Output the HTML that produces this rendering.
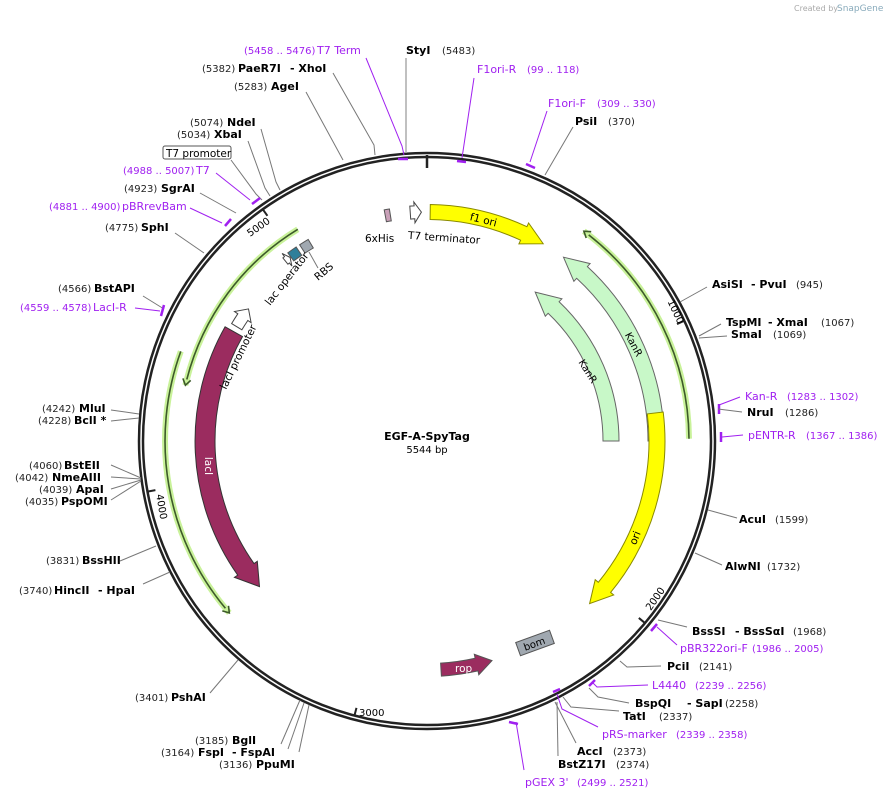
<!DOCTYPE html>
<html><head><meta charset="utf-8"><style>
html,body{margin:0;padding:0;background:#fff;width:892px;height:798px;overflow:hidden}
svg{display:block;font-family:"DejaVu Sans","Liberation Sans",sans-serif}
.b{font-weight:bold;font-size:11px;fill:#000}
.n{font-size:10px;fill:#222}
.p{font-size:11px;fill:#a020f0}
.pn{font-size:10px;fill:#a020f0}
.l{stroke:#777;stroke-width:1;fill:none}
.lp{stroke:#a020f0;stroke-width:1;fill:none}
.m{stroke:#a020f0;stroke-width:2.5;fill:none}
</style></head><body>
<svg id="s" width="892" height="798" viewBox="0 0 892 798" xmlns="http://www.w3.org/2000/svg">
<text x="794" y="11" font-size="8" fill="#aaa">Created by</text><text x="837" y="11" font-size="9" fill="#8ab">SnapGene</text>
<g id="feat"></g>
<circle cx="427" cy="441" r="288" fill="none" stroke="#222" stroke-width="2.5"/>
<circle cx="427" cy="441" r="284" fill="none" stroke="#222" stroke-width="2.5"/>
<line x1="427" y1="155" x2="427" y2="168" stroke="#222" stroke-width="2.5"/>
<g id="ticks"></g>
<text x="647" y="610" font-size="10" transform="rotate(-55 650 607)">2000</text>
<text x="359" y="716" font-size="10">3000</text>
<text x="150" y="498" font-size="10" transform="rotate(80 155 500)">4000</text>
<text x="244" y="232" font-size="10" transform="rotate(-35 255 225)">5000</text>
<text x="660" y="307" font-size="10" transform="rotate(65 668 310)">1000</text>
<text x="427" y="440" text-anchor="middle" font-size="11" font-weight="bold">EGF-A-SpyTag</text>
<text x="427" y="453" text-anchor="middle" font-size="10">5544 bp</text>
<path class="lp" d="M366 58 L402 146 L404 155"/><path class="m" d="M398 159 L408 159"/>
<path class="l" style="stroke:#aaa;stroke-width:1.5" d="M406 58 L406 153"/>
<path class="l" d="M333 73 L374 145 L375 155"/>
<path class="l" d="M306 92 L343 160"/>
<path class="l" d="M261 129 L276 182 L280 190"/>
<path class="l" d="M248 141 L265 188 L270 196"/>
<path class="l" d="M231 160 L256 194 L262 200"/>
<path class="lp" d="M216 173 L250 200"/><path class="m" d="M252 204 L260 198"/>
<path class="l" d="M200 193 L236 213"/>
<path class="lp" d="M190 208 L222 223"/><path class="m" d="M225 226 L231 219"/>
<path class="l" d="M175 233 L204 253"/>
<path class="l" d="M143 296 L164 309"/>
<path class="lp" d="M135 308 L160 311"/><path class="m" d="M161 316 L164 305"/>
<path class="l" d="M111 410 L139 414"/>
<path class="l" d="M111 421 L139 418"/>
<path class="l" d="M111 465 L141 478"/><path class="l" d="M111 477 L141 479"/><path class="l" d="M111 489 L141 480"/><path class="l" d="M111 500 L141 481"/>
<path class="l" d="M120 561 L156 546"/>
<path class="l" d="M143 584 L170 572"/>
<path class="l" d="M210 693 L238 660"/>
<path class="l" d="M281 744 L300 700"/>
<path class="l" d="M288 749 L304 703"/>
<path class="l" d="M299 752 L309 705"/>
<path class="lp" d="M474 78 L462 158"/><path class="m" d="M457 161 L466 162"/>
<path class="lp" d="M547 111 L530 162"/><path class="m" d="M526 164 L535 168"/>
<path class="l" d="M573 127 L545 175"/>
<path class="l" d="M707 287 L680 302"/>
<path class="l" d="M721 324 L699 336"/>
<path class="l" d="M727 336 L699 338"/>
<path class="lp" d="M740 397 L719 405"/><path class="m" d="M719 404 L719 414"/>
<path class="l" d="M742 412 L718 409"/>
<path class="lp" d="M743 435 L722 437"/><path class="m" d="M721 432 L721 442"/>
<path class="l" d="M737 518 L708 510"/>
<path class="l" d="M722 565 L695 553"/>
<path class="l" d="M687 627 L658 620"/>
<path class="lp" d="M677 645 L657 627"/><path class="m" d="M651 631 L657 624"/>
<path class="l" d="M661 666 L627 667 L620 661"/>
<path class="lp" d="M648 685 L597 687 L592 682"/><path class="m" d="M589 686 L595 680"/>
<path class="l" d="M629 703 L598 697 L589 688"/>
<path class="l" d="M619 711 L571 707 L563 697"/>
<path class="lp" d="M598 727 L562 709 L557 694"/><path class="m" d="M553 692 L560 689"/>
<path class="l" d="M576 743 L555 702"/>
<path class="l" d="M558 756 L557 702"/>
<path class="lp" d="M524 770 L516 722"/><path class="m" d="M509 722 L518 724"/>
<text x="244" y="54" class="pn">(5458 .. 5476)</text><text x="317" y="54" class="p">T7 Term</text>
<text x="406" y="54" class="b">StyI</text><text x="442" y="54" class="n">(5483)</text>
<text x="202" y="72" class="n">(5382)</text><text x="238" y="72" class="b">PaeR7I</text><text x="290" y="72" class="b">- XhoI</text>
<text x="234" y="90" class="n">(5283)</text><text x="271" y="90" class="b">AgeI</text>
<text x="190" y="126" class="n">(5074)</text><text x="227" y="126" class="b">NdeI</text>
<text x="177" y="138" class="n">(5034)</text><text x="214" y="138" class="b">XbaI</text>
<rect x="163" y="146" width="68" height="13" rx="2" fill="#fff" stroke="#555"/><text x="166" y="157" font-size="10.5">T7 promoter</text>
<text x="123" y="174" class="pn">(4988 .. 5007)</text><text x="196" y="174" class="p">T7</text>
<text x="124" y="192" class="n">(4923)</text><text x="161" y="192" class="b">SgrAI</text>
<text x="49" y="210" class="pn">(4881 .. 4900)</text><text x="122" y="210" class="p">pBRrevBam</text>
<text x="105" y="231" class="n">(4775)</text><text x="141" y="231" class="b">SphI</text>
<text x="58" y="292" class="n">(4566)</text><text x="94" y="292" class="b">BstAPI</text>
<text x="20" y="311" class="pn">(4559 .. 4578)</text><text x="93" y="311" class="p">LacI-R</text>
<text x="42" y="412" class="n">(4242)</text><text x="79" y="412" class="b">MluI</text>
<text x="38" y="424" class="n">(4228)</text><text x="74" y="424" class="b">BclI *</text>
<text x="29" y="469" class="n">(4060)</text><text x="64" y="469" class="b">BstEII</text>
<text x="15" y="481" class="n">(4042)</text><text x="52" y="481" class="b">NmeAIII</text>
<text x="39" y="493" class="n">(4039)</text><text x="76" y="493" class="b">ApaI</text>
<text x="25" y="505" class="n">(4035)</text><text x="61" y="505" class="b">PspOMI</text>
<text x="46" y="564" class="n">(3831)</text><text x="82" y="564" class="b">BssHII</text>
<text x="19" y="594" class="n">(3740)</text><text x="54" y="594" class="b">HincII</text><text x="98" y="594" class="b">- HpaI</text>
<text x="135" y="701" class="n">(3401)</text><text x="171" y="701" class="b">PshAI</text>
<text x="195" y="744" class="n">(3185)</text><text x="232" y="744" class="b">BglI</text>
<text x="161" y="756" class="n">(3164)</text><text x="198" y="756" class="b">FspI</text><text x="232" y="756" class="b">- FspAI</text>
<text x="219" y="768" class="n">(3136)</text><text x="256" y="768" class="b">PpuMI</text>
<text x="477" y="73" class="p">F1ori-R</text><text x="527" y="73" class="pn">(99 .. 118)</text>
<text x="548" y="107" class="p">F1ori-F</text><text x="597" y="107" class="pn">(309 .. 330)</text>
<text x="575" y="125" class="b">PsiI</text><text x="608" y="125" class="n">(370)</text>
<text x="712" y="288" class="b">AsiSI</text><text x="751" y="288" class="b">- PvuI</text><text x="796" y="288" class="n">(945)</text>
<text x="726" y="326" class="b">TspMI</text><text x="768" y="326" class="b">- XmaI</text><text x="821" y="326" class="n">(1067)</text>
<text x="731" y="338" class="b">SmaI</text><text x="773" y="338" class="n">(1069)</text>
<text x="745" y="400" class="p">Kan-R</text><text x="787" y="400" class="pn">(1283 .. 1302)</text>
<text x="747" y="416" class="b">NruI</text><text x="785" y="416" class="n">(1286)</text>
<text x="748" y="439" class="p">pENTR-R</text><text x="806" y="439" class="pn">(1367 .. 1386)</text>
<text x="739" y="523" class="b">AcuI</text><text x="775" y="523" class="n">(1599)</text>
<text x="725" y="570" class="b">AlwNI</text><text x="767" y="570" class="n">(1732)</text>
<text x="692" y="635" class="b">BssSI</text><text x="735" y="635" class="b">- BssSαI</text><text x="793" y="635" class="n">(1968)</text>
<text x="680" y="652" class="p">pBR322ori-F</text><text x="752" y="652" class="pn">(1986 .. 2005)</text>
<text x="667" y="670" class="b">PciI</text><text x="699" y="670" class="n">(2141)</text>
<text x="652" y="689" class="p">L4440</text><text x="695" y="689" class="pn">(2239 .. 2256)</text>
<text x="635" y="707" class="b">BspQI</text><text x="687" y="707" class="b">- SapI</text><text x="725" y="707" class="n">(2258)</text>
<text x="623" y="720" class="b">TatI</text><text x="659" y="720" class="n">(2337)</text>
<text x="602" y="738" class="p">pRS-marker</text><text x="676" y="738" class="pn">(2339 .. 2358)</text>
<text x="577" y="755" class="b">AccI</text><text x="613" y="755" class="n">(2373)</text>
<text x="558" y="768" class="b">BstZ17I</text><text x="616" y="768" class="n">(2374)</text>
<text x="525" y="786" class="p">pGEX 3'</text><text x="577" y="786" class="pn">(2499 .. 2521)</text>
<text x="470" y="222" font-size="10.5" transform="rotate(14 478 218)">f1 ori</text>
<text x="628" y="540" font-size="10.5" transform="rotate(-68 636 537)">ori</text>
<text x="622" y="345" font-size="10" transform="rotate(62 632 342)">KanR</text>
<text x="576" y="372" font-size="10" transform="rotate(58 586 369)">KanR</text>
<text x="205" y="466" text-anchor="middle" font-size="10.5" fill="#fff" transform="rotate(90 205 466)">lacI</text>
<text x="455" y="672" font-size="10.5" fill="#fff">rop</text>
<text x="365" y="242" font-size="10.5">6xHis</text>
<text x="408" y="241" font-size="10.5" transform="rotate(4 440 237)">T7 terminator</text>
<text x="226" y="390" font-size="10.5" transform="rotate(-64 226 390)">lacI promoter</text>
<text x="270" y="306" font-size="10.5" transform="rotate(-52 270 306)">lac operator</text>
<text x="318" y="281" font-size="10.5" transform="rotate(-40 318 281)">RBS</text>
<line x1="309" y1="252" x2="318" y2="268" stroke="#777"/>
</svg>
<script>
(function(){
var cx=427,cy=441,NS="http://www.w3.org/2000/svg";
function P(r,a){a=a*Math.PI/180;return [cx+r*Math.sin(a),cy-r*Math.cos(a)];}
function f(p){return p[0].toFixed(1)+" "+p[1].toFixed(1);}
var g=document.getElementById("feat");
function add(tag,at){var e=document.createElementNS(NS,tag);for(var k in at)e.setAttribute(k,at[k]);g.appendChild(e);return e;}
function arcPath(r,a1,a2){var sw=a2>a1?1:0,la=Math.abs(a2-a1)>180?1:0;return "M"+f(P(r,a1))+" A"+r+" "+r+" 0 "+la+" "+sw+" "+f(P(r,a2));}
function arrow(r,w,s,t,fill,stroke,head){
 head=head||20;var d=t>s?1:-1;var hd=head/r*180/Math.PI;var h=t-d*hd;
 var ro=r+w/2,ri=r-w/2,sw=d>0?1:0,sw2=d>0?0:1,la=Math.abs(h-s)>180?1:0;
 var p="M"+f(P(ro,s))+" A"+ro+" "+ro+" 0 "+la+" "+sw+" "+f(P(ro,h))+" L"+f(P(ro+4,h))+" L"+f(P(r,t))+" L"+f(P(ri-4,h))+" L"+f(P(ri,h))+" A"+ri+" "+ri+" 0 "+la+" "+sw2+" "+f(P(ri,s))+" Z";
 add("path",{d:p,fill:fill,stroke:stroke,"stroke-width":1});
}
function box(r,w,s,e,fill){
 var ro=r+w/2,ri=r-w/2;
 add("path",{d:"M"+f(P(ro,s))+" A"+ro+" "+ro+" 0 0 1 "+f(P(ro,e))+" L"+f(P(ri,e))+" A"+ri+" "+ri+" 0 0 0 "+f(P(ri,s))+" Z",fill:fill,stroke:"#555","stroke-width":1});
}
function green(r,s,t){
 add("path",{d:arcPath(r,s,t),stroke:"#c9f29a","stroke-width":6,fill:"none"});
 var d=t>s?1:-1;var h=t-d*(6/r*180/Math.PI);
 add("path",{d:arcPath(r,s,h),stroke:"#3d5a2a","stroke-width":1.6,fill:"none"});
 add("path",{d:"M"+f(P(r+4,h))+" L"+f(P(r,t))+" L"+f(P(r-4,h)),stroke:"#3d5a2a","stroke-width":1.6,fill:"none"});
}
var tg=document.getElementById("ticks");
[1000,2000,3000,4000,5000].forEach(function(b){var a=b/5544*360;var e=document.createElementNS(NS,"line");var p1=P(284,a),p2=P(276,a);e.setAttribute("x1",p1[0]);e.setAttribute("y1",p1[1]);e.setAttribute("x2",p2[0]);e.setAttribute("y2",p2[1]);e.setAttribute("stroke","#222");e.setAttribute("stroke-width","2");tg.appendChild(e);});
arrow(229,15,0.8,30.5,"#ffff00","#8a8a00",22);
green(262,89.5,36.8);
arrow(229,16,90,36.6,"#c8f8c8","#666",24);
arrow(184,16,90,36,"#c8f8c8","#666",24);
arrow(230,16,83,135,"#ffff00","#8a8a00",22);
arrow(229,13,176.5,163.5,"#9b2c5f","#555",16);
arrow(222,20,299.5,229,"#9b2c5f","#333",22);
green(248,328.6,283);
green(262,290,229);
arrow(222,12,301,306.5,"#fff","#444",10);
box(229,10,323.5,326,"#2f7f9a");
box(229,10,327,329.5,"#a0a8b0");
arrow(229,8,321.8,323.3,"#fff","#444",4);
box(229,12,349.5,350.8,"#c9a0b8");
arrow(229,13,355.8,358.6,"#fff","#444",7);
var b=add("g",{transform:"rotate(-20 535 643)"});
var r=document.createElementNS(NS,"rect");r.setAttribute("x",517);r.setAttribute("y",636);r.setAttribute("width",36);r.setAttribute("height",14);r.setAttribute("fill","#a0a8b0");r.setAttribute("stroke","#555");b.appendChild(r);
var t=document.createElementNS(NS,"text");t.setAttribute("x",523);t.setAttribute("y",647);t.setAttribute("font-size","10");t.textContent="bom";b.appendChild(t);
})();
</script>
</body></html>
